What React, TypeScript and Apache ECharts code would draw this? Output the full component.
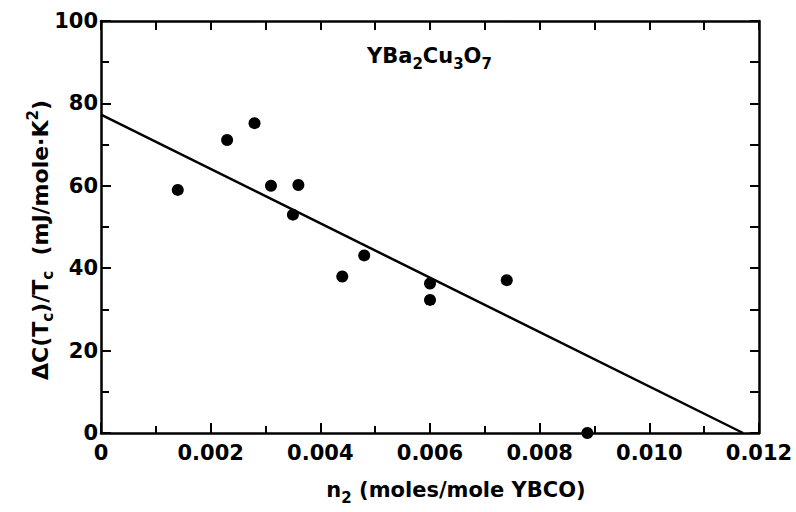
import React, { useEffect, useRef } from "react";
import * as echarts from "echarts";

const xTickValues = [0, 0.002, 0.004, 0.006, 0.008, 0.01, 0.012];
const yTickValues = [0, 20, 40, 60, 80, 100];
const n2Values = [0.0014, 0.0023, 0.0028, 0.0031, 0.0036, 0.0035, 0.0044, 0.0048, 0.006, 0.006, 0.0074, 0.00887];
const dcValues = [59, 71.1, 75.2, 60, 60.2, 53, 38, 43.1, 36.3, 32.3, 37.1, 0];
const fitX = [0, 0.01171];
const fitY = [77.3, 0];

const FONT = "DejaVu Sans";

export default function App() {
  const ref = useRef<HTMLDivElement>(null);
  useEffect(() => {
    document.body.style.margin = "0";
    if (!ref.current) return;
    const chart = echarts.init(ref.current, null, { renderer: "svg" });
    const axisLine = { show: true, onZero: false, lineStyle: { color: "#000", width: 2.5 } };
    const label = {
      color: "#000",
      fontFamily: FONT,
      fontSize: 21,
      fontWeight: "bold" as const,
    };
    const sub = { fontFamily: FONT, fontSize: 15, fontWeight: "bold" as const, color: "#000", padding: [16, 0, 0, 0] };
    const sup = { fontFamily: FONT, fontSize: 15, fontWeight: "bold" as const, color: "#000", padding: [0, 0, 14, 0] };
    const main = { fontFamily: FONT, fontSize: 21, fontWeight: "bold" as const, color: "#000" };
    const mainY = { ...main, fontSize: 22 };
    const xmin = xTickValues[0];
    const xmax = xTickValues[xTickValues.length - 1];
    const ymin = yTickValues[0];
    const ymax = yTickValues[yTickValues.length - 1];
    const tickStyle = { color: "#000", width: 2 };
    chart.setOption({
      animation: false,
      backgroundColor: "#fff",
      grid: { left: 101, right: 37, top: 21, bottom: 79 },
      xAxis: [
        {
          type: "value",
          position: "bottom",
          min: xmin,
          max: xmax,
          interval: 0.002,
          axisLine,
          axisTick: { show: true, inside: true, length: 10, lineStyle: tickStyle },
          minorTick: { show: true, splitNumber: 2, length: 7, lineStyle: tickStyle },
          splitLine: { show: false },
          axisLabel: {
            ...label,
            margin: 9,
            formatter: (v: number) => (v === 0 ? "0" : v.toFixed(3)),
          },
        },
        {
          type: "value",
          position: "top",
          min: xmin,
          max: xmax,
          interval: 0.001,
          axisLine,
          axisTick: { show: true, inside: true, length: 9, lineStyle: tickStyle },
          splitLine: { show: false },
          axisLabel: { show: false },
        },
      ],
      yAxis: [
        {
          type: "value",
          position: "left",
          min: ymin,
          max: ymax,
          interval: 20,
          axisLine,
          axisTick: { show: true, inside: true, length: 10, lineStyle: tickStyle },
          minorTick: { show: true, splitNumber: 2, length: 8, lineStyle: tickStyle },
          splitLine: { show: false },
          axisLabel: { ...label, margin: 3 },
        },
        {
          type: "value",
          position: "right",
          min: ymin,
          max: ymax,
          interval: 10,
          axisLine,
          axisTick: { show: true, inside: true, length: 9, lineStyle: tickStyle },
          splitLine: { show: false },
          axisLabel: { show: false },
        },
      ],
      series: [
        {
          type: "line",
          data: fitX.map((x, i) => [x, fitY[i]]),
          showSymbol: false,
          symbol: "none",
          lineStyle: { color: "#000", width: 2.5 },
          clip: false,
        },
        {
          type: "scatter",
          data: n2Values.map((x, i) => [x, dcValues[i]]),
          symbol: "circle",
          symbolSize: 12,
          itemStyle: { color: "#000", opacity: 1 },
          clip: false,
        },
      ],
      graphic: [
        {
          type: "text",
          x: 367,
          y: 56,
          style: {
            text: "{m|YBa}{s|2}{m|Cu}{s|3}{m|O}{s|7}",
            rich: { m: main, s: sub },
            align: "left",
            verticalAlign: "middle",
          },
        },
        {
          type: "text",
          x: 456,
          y: 490,
          style: {
            text: "{m|n}{s|2}{m| (moles/mole YBCO)}",
            rich: { m: main, s: sub },
            align: "center",
            verticalAlign: "middle",
          },
        },
        {
          type: "text",
          x: 40,
          y: 240,
          rotation: Math.PI / 2,
          style: {
            text: "{m|ΔC(T}{s|c}{m|)/T}{s|c}{m|  (mJ/mole·K}{p|2}{m|)}",
            rich: { m: mainY, s: sub, p: sup },
            align: "center",
            verticalAlign: "middle",
          },
        },
      ],
    });
    return () => chart.dispose();
  }, []);
  return <div ref={ref} style={{ width: 796, height: 512 }} />;
}
